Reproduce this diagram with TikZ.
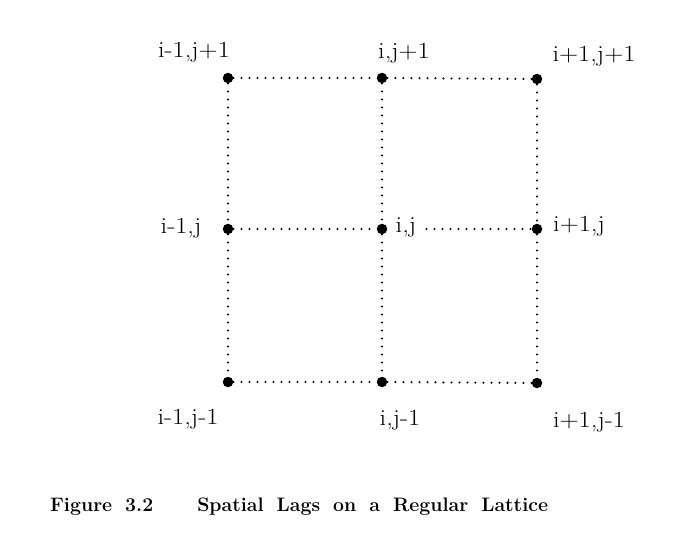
\documentclass[tikz,border=0pt]{standalone}
\usepackage{fontspec}
\newcommand\lscale[1]{\scalebox{1.15}[1]{#1}}
\begin{document}
\begin{tikzpicture}[x=1pt,y=-1pt,
  pt/.style={circle,fill=black,inner sep=0pt,minimum size=10.5pt},
  lnk/.style={line width=2.3pt,dash pattern=on 0pt off 8pt,line cap=round},
  lbl/.style={anchor=base,inner sep=0pt,font=\fontsize{23}{27}\selectfont},
  captext/.style={anchor=base west,inner sep=0pt,font=\bfseries\fontsize{19.5}{23}\selectfont}]
\useasboundingbox (0,0) rectangle (700,559);
% lattice points
\node[pt] (p11) at (228,78) {};
\node[pt] (p21) at (382,78) {};
\node[pt] (p31) at (537,79) {};
\node[pt] (p12) at (228,229) {};
\node[pt] (p22) at (382,229) {};
\node[pt] (p32) at (537,229) {};
\node[pt] (p13) at (228,382) {};
\node[pt] (p23) at (382,382) {};
\node[pt] (p33) at (537,383) {};
% labels
\node[lbl] (l11) at (194,58) {\lscale{i-1,j+1}};
\node[lbl] (l21) at (404,59) {\lscale{i,j+1}};
\node[lbl] (l31) at (594,62) {\lscale{i+1,j+1}};
\node[lbl] (l12) at (181,233) {\lscale{i-1,j}};
\node[lbl] (l22) at (406,232) {\lscale{i,j}};
\node[lbl] (l32) at (579,231) {\lscale{i+1,j}};
\node[lbl] (l13) at (188,424) {\lscale{i-1,j-1}};
\node[lbl] (l23) at (400,425) {\lscale{i,j-1}};
\node[lbl] (l33) at (589,427) {\lscale{i+1,j-1}};
\coordinate (m) at ([xshift=10pt]l22.east |- p22);
% dotted links
\draw[lnk] (p11) -- (p21);
\draw[lnk] (p21) -- (p31);
\draw[lnk] (p12) -- (p22);
\draw[lnk] (m) -- (p32);
\draw[lnk] (p13) -- (p23);
\draw[lnk] (p23) -- (p33);
\draw[lnk] (p11) -- (p12);
\draw[lnk] (p12) -- (p13);
\draw[lnk] (p21) -- (p22);
\draw[lnk] (p22) -- (p23);
\draw[lnk] (p31) -- (p32);
\draw[lnk] (p32) -- (p33);
% caption
\node[captext] (caption) at (50,511) {\spaceskip=13pt\relax Figure 3.2\hskip44pt Spatial Lags on a Regular Lattice};
\end{tikzpicture}
\end{document}
